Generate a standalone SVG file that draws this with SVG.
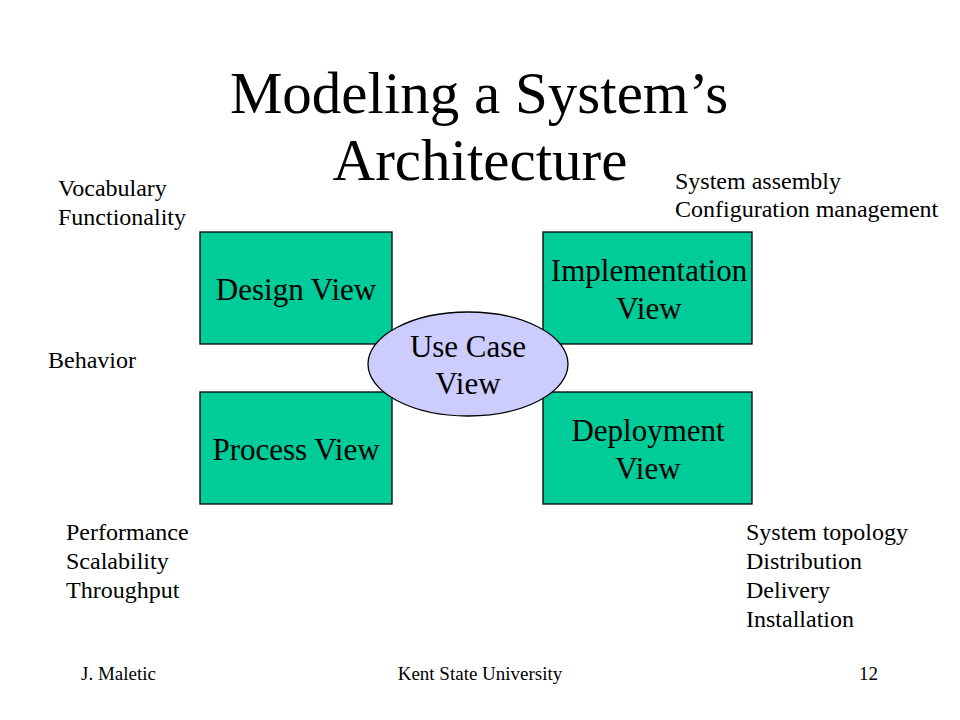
<svg xmlns="http://www.w3.org/2000/svg" width="960" height="720" viewBox="0 0 960 720">
<style>
text { font-family: "Liberation Serif", "Times New Roman", serif; fill: #000; }
.title { font-size: 59px; text-anchor: middle; }
.lbl { font-size: 24px; }
.node { font-size: 31px; text-anchor: middle; }
.box { fill: #00cc99; stroke: #000; stroke-width: 1.3; }
.ell { fill: #ccccff; stroke: #000; stroke-width: 1.3; }
.foot { font-size: 19px; }
</style>
<rect width="960" height="720" fill="#fff"/>
<g id="title">
<text class="title" x="479" y="113">Modeling a System’s</text>
<text class="title" x="480" y="180">Architecture</text>
</g>
<g id="connectors"></g>
<g id="design-view">
<rect class="box" x="200" y="232" width="192" height="112"/>
<text class="node" x="296" y="300">Design View</text>
</g>
<g id="implementation-view">
<rect class="box" x="543" y="232" width="209" height="112"/>
<text class="node" x="649" y="281">Implementation</text>
<text class="node" x="649" y="319">View</text>
</g>
<g id="process-view">
<rect class="box" x="200" y="392" width="192" height="112"/>
<text class="node" x="296" y="460">Process View</text>
</g>
<g id="deployment-view">
<rect class="box" x="543" y="392" width="209" height="112"/>
<text class="node" x="648" y="441">Deployment</text>
<text class="node" x="648" y="479">View</text>
</g>
<g id="use-case-view">
<ellipse class="ell" cx="468" cy="364" rx="100" ry="52"/>
<text class="node" x="468" y="357">Use Case</text>
<text class="node" x="468" y="394">View</text>
</g>
<g id="labels">
<text class="lbl" x="58" y="196">Vocabulary</text>
<text class="lbl" x="58" y="225">Functionality</text>
<text class="lbl" x="48" y="368">Behavior</text>
<text class="lbl" x="675" y="189">System assembly</text>
<text class="lbl" x="675" y="217">Configuration management</text>
<text class="lbl" x="66" y="540">Performance</text>
<text class="lbl" x="66" y="569">Scalability</text>
<text class="lbl" x="66" y="598">Throughput</text>
<text class="lbl" x="746" y="540">System topology</text>
<text class="lbl" x="746" y="569">Distribution</text>
<text class="lbl" x="746" y="598">Delivery</text>
<text class="lbl" x="746" y="627">Installation</text>
</g>
<g id="footer">
<text class="foot" x="81" y="680">J. Maletic</text>
<text class="foot" x="480" y="680" text-anchor="middle">Kent State University</text>
<text class="foot" x="878" y="680" text-anchor="end">12</text>
</g>
</svg>
